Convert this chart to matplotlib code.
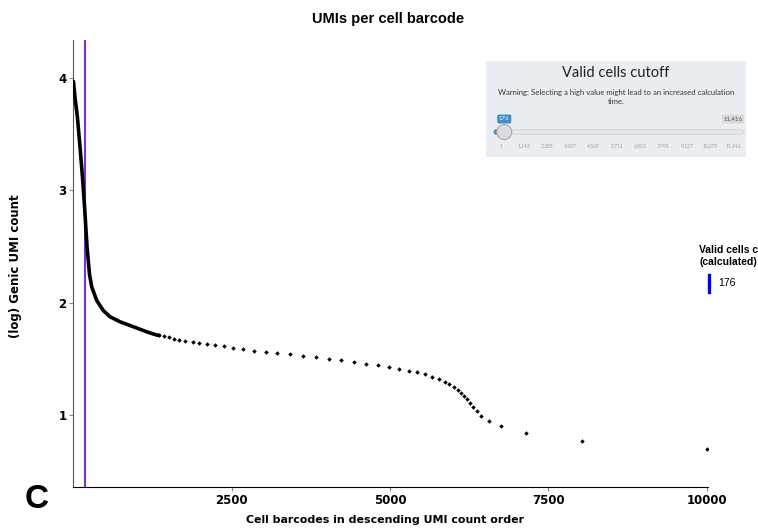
import numpy as np
import matplotlib
matplotlib.use("Agg")
import matplotlib.pyplot as plt
from matplotlib.patches import FancyBboxPatch, Circle
from matplotlib.lines import Line2D

# barcode rank vs log10 genic UMI count
# dense head of the curve (drawn as a thick line)
head_rank = [1, 25, 62, 104, 147, 180, 215, 255, 290, 368, 472, 578, 736, 946, 1157, 1315, 1357]
head_logumi = [3.97, 3.83, 3.66, 3.39, 3.09, 2.82, 2.50, 2.25, 2.14, 2.02, 1.93, 1.875, 1.83, 1.786, 1.741, 1.712, 1.709]

# sparse tail points
tail_rank = [1357, 1431, 1515, 1594, 1673, 1768, 1883, 1988, 2104, 2241, 2378, 2525, 2683, 2852,
             3036, 3220, 3420, 3620, 3826, 4036, 4231, 4431, 4620, 4810, 4978, 5141, 5294, 5420,
             5552, 5665, 5765, 5863, 5936, 6005, 6073, 6120, 6168, 6220, 6267, 6315, 6373, 6441,
             6563, 6747, 7151, 8031, 10000]
tail_logumi = [1.709, 1.703, 1.691, 1.679, 1.667, 1.659, 1.650, 1.638, 1.629, 1.620, 1.611, 1.599,
               1.584, 1.572, 1.561, 1.549, 1.540, 1.528, 1.519, 1.501, 1.487, 1.472, 1.457, 1.445,
               1.430, 1.412, 1.394, 1.380, 1.362, 1.340, 1.322, 1.296, 1.273, 1.252, 1.225, 1.198,
               1.172, 1.139, 1.107, 1.071, 1.035, 0.994, 0.946, 0.899, 0.837, 0.771, 0.699]

cutoff = 176
slider_max = 11416
slider_ticks = [1, 1143, 2285, 3427, 4569, 5711, 6853, 7995, 9137, 10279, 11416]
xticks = [2500, 5000, 7500, 10000]
yticks = [1, 2, 3, 4]

W, H = 758, 530
fig = plt.figure(figsize=(W / 100, H / 100), dpi=100)


def fx(x):
    return x / W


def fy(y):
    return 1 - y / H


# main axes
ax = fig.add_axes([fx(73.4), fy(487), fx(708) - fx(73.4), fy(40) - fy(487)])
ax.plot(head_rank, head_logumi, color="black", lw=2.6, solid_capstyle="round", zorder=3)
ax.plot(tail_rank, tail_logumi, "D", color="black", ms=2.3, mew=0, zorder=3)
ax.axvline(cutoff, color="#7b2fd8", lw=1.5, zorder=2)

ax.set_xlim(0, 10020)
ax.set_ylim(0.359, 4.339)
ax.set_xticks(xticks)
ax.set_yticks(yticks)
ax.set_xticklabels([str(t) for t in xticks], fontweight="bold", fontsize=8.5)
ax.set_yticklabels([str(t) for t in yticks], fontweight="bold", fontsize=8.5)
ax.tick_params(length=3, width=0.8, color="#888888", pad=2)
for s in ["top", "right"]:
    ax.spines[s].set_visible(False)
ax.spines["left"].set_color("#555555")
ax.spines["bottom"].set_color("black")

fig.text(fx(385), fy(520), "Cell barcodes in descending UMI count order",
         ha="center", va="center", fontsize=7.9, fontweight="bold")
fig.text(fx(16), fy(266), "(log) Genic UMI count", ha="center", va="center",
         rotation=90, fontsize=8.5, fontweight="bold")
fig.text(fx(388), fy(19), "UMIs per cell barcode", ha="center", va="center",
         fontsize=10.5, fontweight="bold", family="Liberation Sans")
fig.text(fx(37), fy(500), "C", ha="center", va="center", fontsize=24,
         fontweight="bold", family="Liberation Sans")

# legend on the right (title cut off by the figure edge, as in the original)
fig.text(fx(699), fy(250), "Valid cells cutoff", ha="left", va="center",
         fontsize=7.5, fontweight="bold", family="Liberation Sans")
fig.text(fx(699), fy(262), "(calculated)", ha="left", va="center",
         fontsize=7.5, fontweight="bold", family="Liberation Sans")
fig.add_artist(Line2D([fx(709), fx(709)], [fy(275), fy(292)], color="blue", lw=2.4,
                      transform=fig.transFigure))
fig.text(fx(718), fy(283), str(cutoff), ha="left", va="center", fontsize=7.5,
         family="Liberation Sans")

# slider panel
bx0, by0, bx1, by1 = 486, 61, 746, 157
panel = fig.add_axes([fx(bx0), fy(by1), fx(bx1) - fx(bx0), fy(by0) - fy(by1)])
panel.set_xlim(0, bx1 - bx0)
panel.set_ylim(by1 - by0, 0)
panel.set_facecolor("#eaeef2")
panel.set_xticks([])
panel.set_yticks([])
for s in panel.spines.values():
    s.set_visible(False)

cx = (bx1 - bx0) / 2
panel.text(cx, 12, "Valid cells cutoff", ha="center", va="center", fontsize=10.5,
           family="Lato", color="#222222")
panel.text(cx, 31, "Warning: Selecting a high value might lead to an increased calculation",
           ha="center", va="center", fontsize=5.6, family="Lato", color="#333333")
panel.text(cx, 41, "time.", ha="center", va="center", fontsize=5.6, family="Lato", color="#333333")

t0, t1 = 14.7, 247


def sx(v):
    return t0 + (v - 1) / (slider_max - 1) * (t1 - t0)


track_y = 71
panel.add_patch(FancyBboxPatch((8, track_y - 2.2), 250, 4.4,
                               boxstyle="round,pad=0,rounding_size=2.2",
                               fc="#e8e8e8", ec="#cfcfcf", lw=0.6))
panel.add_patch(FancyBboxPatch((8, track_y - 2.2), sx(cutoff) - 8, 4.4,
                               boxstyle="round,pad=0,rounding_size=2.2",
                               fc="#428bca", ec="#428bca", lw=0.6))
panel.add_patch(Circle((sx(cutoff), track_y), 7.5, fc="#dcdcdc", ec="#a8a8a8", lw=0.8, zorder=4))

panel.add_patch(FancyBboxPatch((sx(cutoff) - 7, 53.5), 14, 9,
                               boxstyle="round,pad=0,rounding_size=1.5",
                               fc="#428bca", ec="none"))
panel.text(sx(cutoff), 58, str(cutoff), ha="center", va="center", fontsize=4.3,
           family="Lato", color="white")
panel.add_patch(FancyBboxPatch((sx(slider_max) - 11, 53.5), 22, 9,
                               boxstyle="round,pad=0,rounding_size=1.5",
                               fc="#d9d9d9", ec="none"))
panel.text(sx(slider_max), 58, f"{slider_max:,}", ha="center", va="center", fontsize=4.3,
           family="Lato", color="#555555")

for v in slider_ticks:
    panel.text(sx(v), 85, f"{v:,}", ha="center", va="center", fontsize=3.6,
               family="Lato", color="#9aa0a6")

fig.savefig("out.png", dpi=100)
